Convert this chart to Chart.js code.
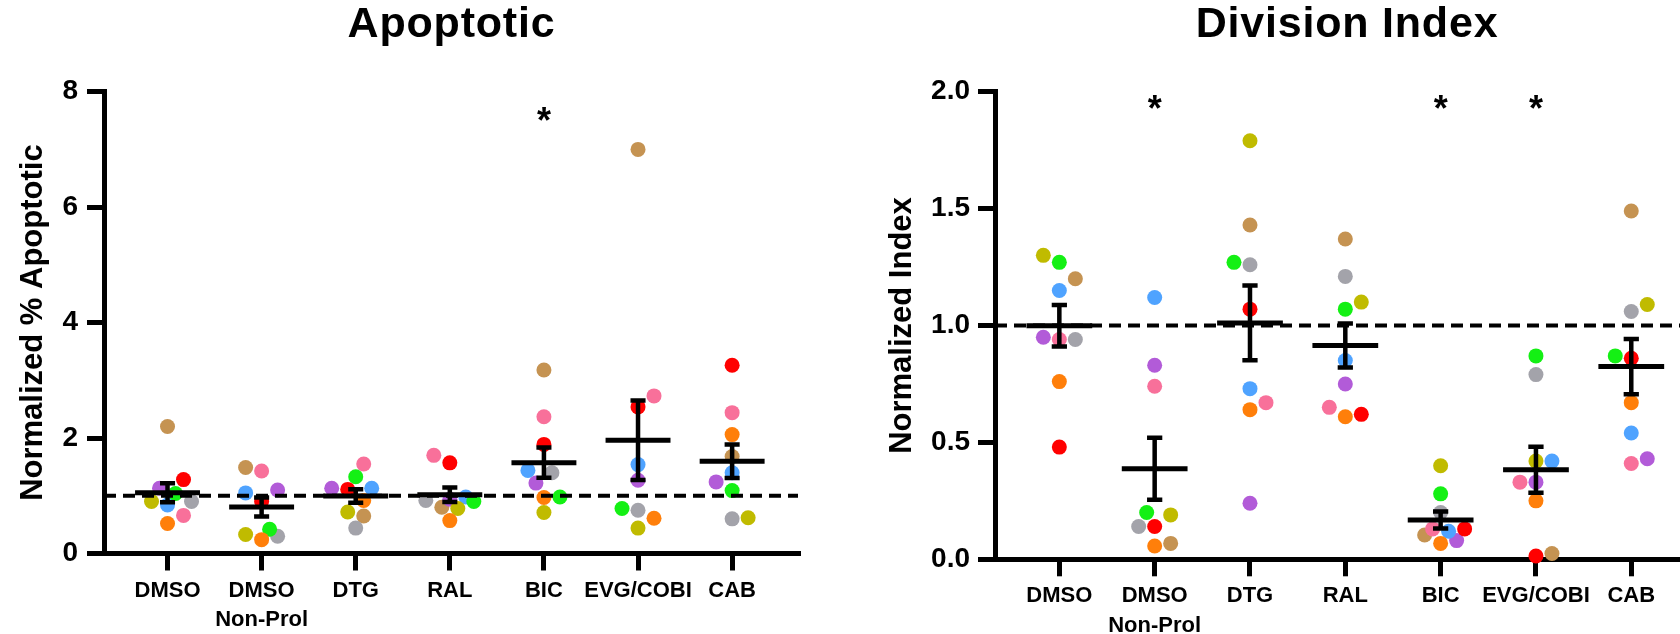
<!DOCTYPE html>
<html>
<head>
<meta charset="utf-8">
<script src="https://cdn.jsdelivr.net/npm/chart.js@4.4.1/dist/chart.umd.min.js"></script>
<style>
html, body { margin:0; padding:0; background:#fff; overflow:hidden; width:1680px; height:634px; }
#wrapL { position:absolute; left:0; top:0; width:840px; height:634px; }
#wrapR { position:absolute; left:840px; top:0; width:900px; height:634px; }
</style>
</head>
<body>
<div id="wrapL"><canvas id="cL"></canvas></div>
<div id="wrapR"><canvas id="cR"></canvas></div>
<script>
// ---------- DATA ----------
const categories = ['DMSO', ['DMSO', 'Non-Prol'], 'DTG', 'RAL', 'BIC', 'EVG/COBI', 'CAB'];
const donorNames = ['Donor 1', 'Donor 2', 'Donor 3', 'Donor 4', 'Donor 5', 'Donor 6', 'Donor 7', 'Donor 8', 'Donor 9'];
const donorColors = ['#FF0000', '#FF7F0A', '#C0BB00', '#14F014', '#4FA3FF', '#B25BD8', '#F8709A', '#A3A3AA', '#C59352'];

// Normalized % Apoptotic, one array per donor, in category order
const apoDonor1 = [1.28, 0.90, 1.11, 1.57, 1.89, 2.54, 3.26];
const apoDonor2 = [0.52, 0.24, 0.92, 0.57, 0.97, 0.61, 2.06];
const apoDonor3 = [0.90, 0.33, 0.72, 0.78, 0.71, 0.44, 0.62];
const apoDonor4 = [1.04, 0.42, 1.33, 0.90, 0.98, 0.78, 1.09];
const apoDonor5 = [0.84, 1.05, 1.13, 0.98, 1.44, 1.54, 1.40];
const apoDonor6 = [1.13, 1.10, 1.13, 0.94, 1.22, 1.27, 1.24];
const apoDonor7 = [0.66, 1.43, 1.55, 1.70, 2.37, 2.73, 2.44];
const apoDonor8 = [0.90, 0.30, 0.44, 0.92, 1.40, 0.75, 0.60];
const apoDonor9 = [2.20, 1.49, 0.65, 0.80, 3.18, 7.00, 1.68];

// Normalized Division Index, one array per donor, in category order
const divDonor1 = [0.48, 0.14, 1.07, 0.62, 0.13, 0.014, 0.86];
const divDonor2 = [0.76, 0.057, 0.64, 0.61, 0.068, 0.25, 0.67];
const divDonor3 = [1.30, 0.19, 1.79, 1.10, 0.40, 0.42, 1.09];
const divDonor4 = [1.27, 0.20, 1.27, 1.07, 0.28, 0.87, 0.87];
const divDonor5 = [1.15, 1.12, 0.73, 0.85, 0.12, 0.42, 0.54];
const divDonor6 = [0.95, 0.83, 0.24, 0.75, 0.08, 0.33, 0.43];
const divDonor7 = [0.94, 0.74, 0.67, 0.65, 0.13, 0.33, 0.41];
const divDonor8 = [0.94, 0.14, 1.26, 1.21, 0.20, 0.79, 1.06];
const divDonor9 = [1.20, 0.068, 1.43, 1.37, 0.104, 0.025, 1.49];

const apoTicks = [0, 2, 4, 6, 8];
const divTicks = [0.0, 0.5, 1.0, 1.5, 2.0];
const apoReference = 1;
const divReference = 1;
const apoSignificant = [4];        // BIC
const divSignificant = [1, 4, 5];  // DMSO Non-Prol, BIC, EVG/COBI

// ---------- STYLE / LAYOUT ----------
const FONT = '"Liberation Sans", Arial, Helvetica, sans-serif';
Chart.defaults.font.family = FONT;
Chart.defaults.color = '#000';
const X_MIN = -0.675, X_MAX = 6.70;
const MEAN_HALF = 0.345, CAP_HALF = 0.08;
const DOT_R = 7.5, SWARM_D = 14.5, SWARM_STEP = 8, SWARM_MAXK = 3;

function stats(vals) {
  const n = vals.length;
  const m = vals.reduce((a, b) => a + b, 0) / n;
  const sd = Math.sqrt(vals.reduce((a, b) => a + (b - m) * (b - m), 0) / (n - 1));
  return { mean: m, sem: sd / Math.sqrt(n) };
}

function buildDatasets(donorArrays, refValue) {
  const ds = [];
  donorArrays.forEach((arr, k) => {
    ds.push({
      type: 'scatter', label: donorNames[k], swarm: true,
      data: arr.map((v, i) => ({ x: i, y: v })),
      backgroundColor: donorColors[k], borderWidth: 0,
      pointRadius: DOT_R, pointHoverRadius: DOT_R, order: 3, clip: false
    });
  });
  const meanPts = [], semPts = [];
  categories.forEach((c, i) => {
    const s = stats(donorArrays.map(a => a[i]));
    meanPts.push({ x: i - MEAN_HALF, y: s.mean }, { x: i + MEAN_HALF, y: s.mean }, { x: i, y: null });
    const lo = s.mean - s.sem, hi = s.mean + s.sem;
    semPts.push({ x: i, y: lo }, { x: i, y: hi }, { x: i, y: null },
                { x: i - CAP_HALF, y: hi }, { x: i + CAP_HALF, y: hi }, { x: i, y: null },
                { x: i - CAP_HALF, y: lo }, { x: i + CAP_HALF, y: lo }, { x: i, y: null });
  });
  ds.push({ type: 'line', label: 'mean', data: meanPts, borderColor: '#000', borderWidth: 5,
            pointRadius: 0, spanGaps: false, order: 0, clip: false });
  ds.push({ type: 'line', label: 'sem', data: semPts, borderColor: '#000', borderWidth: 4.5,
            pointRadius: 0, spanGaps: false, order: 0, clip: false });
  ds.push({ type: 'line', label: 'ref', data: [{ x: X_MIN, y: refValue }, { x: X_MAX, y: refValue }],
            borderColor: '#000', borderWidth: 4, borderDash: [12, 7], pointRadius: 0, order: 1 });
  return ds;
}

// Beeswarm: spread points of one category sideways on a half-step grid (limited width)
const swarmPlugin = {
  id: 'swarm',
  afterDatasetsUpdate(chart) {
    const groups = {};
    chart.data.datasets.forEach((ds, di) => {
      if (!ds.swarm) return;
      const meta = chart.getDatasetMeta(di);
      meta.data.forEach((el, j) => {
        const key = ds.data[j].x;
        (groups[key] = groups[key] || []).push(el);
      });
    });
    Object.values(groups).forEach(els => {
      els.sort((a, b) => b.y - a.y);
      const placed = [];
      let balance = 0;
      els.forEach(el => {
        const base = el.x;
        const minDist = c => placed.reduce((m, p) => {
          const dx = p.off - c, dy = p.y - el.y;
          return Math.min(m, Math.sqrt(dx * dx + dy * dy));
        }, Infinity);
        const cands = [0];
        for (let k = 1; k <= SWARM_MAXK; k++) {
          const c = k * SWARM_STEP;
          if (balance > 0) cands.push(-c, c); else cands.push(c, -c);
        }
        let off = null, best = -1, bestC = 0;
        for (const c of cands) {
          const d = minDist(c);
          if (d >= SWARM_D) { off = c; break; }
          if (d > best) { best = d; bestC = c; }
        }
        if (off === null) off = bestC;
        balance += off;
        placed.push({ y: el.y, off });
        el.x = base + off;
      });
    });
  }
};

const annotPlugin = {
  id: 'annot',
  afterDraw(chart, args, opts) {
    const { ctx, chartArea, scales } = chart;
    ctx.save();
    ctx.fillStyle = '#000';
    ctx.textAlign = 'center';
    ctx.textBaseline = 'middle';
    ctx.font = 'bold 43px ' + FONT;
    try { ctx.letterSpacing = '0.8px'; } catch (e) {}
    ctx.fillText(opts.title, (chartArea.left + chartArea.right) / 2 + 0.5, opts.titleY);
    try { ctx.letterSpacing = '0px'; } catch (e) {}
    ctx.font = 'bold 36px ' + FONT;
    opts.stars.forEach(i => {
      ctx.fillText('*', scales.x.getPixelForValue(i), scales.y.getPixelForValue(opts.starLevel) + 8);
    });
    ctx.restore();
  }
};

function makeChart(canvasId, donorArrays, cfg) {
  return new Chart(document.getElementById(canvasId), {
    type: 'scatter',
    data: { datasets: buildDatasets(donorArrays, cfg.ref) },
    plugins: [swarmPlugin, annotPlugin],
    options: {
      responsive: true, maintainAspectRatio: false, animation: false, devicePixelRatio: 1,
      layout: { padding: { top: cfg.top, right: cfg.padRight, bottom: 0, left: 0 } },
      events: [],
      plugins: {
        legend: { display: false }, tooltip: { enabled: false },
        annot: { title: cfg.title, titleY: 25, stars: cfg.stars, starLevel: cfg.starLevel }
      },
      scales: {
        x: {
          type: 'linear', min: X_MIN, max: X_MAX,
          afterBuildTicks: s => { s.ticks = categories.map((c, i) => ({ value: i })); },
          afterFit: s => { s.height = cfg.xAxisH; },
          ticks: {
            autoSkip: false, maxRotation: 0, minRotation: 0, padding: 5,
            font: { size: 22, weight: 'bold', lineHeight: 1.36 }, color: '#000',
            callback: v => categories[v]
          },
          grid: { drawOnChartArea: false, drawTicks: true, tickLength: 17, tickWidth: 5, tickColor: '#000', lineWidth: 5 },
          border: { display: true, color: '#000', width: 5 }
        },
        y: {
          type: 'linear', min: cfg.yTicks[0], max: cfg.yTicks[cfg.yTicks.length - 1],
          afterBuildTicks: s => { s.ticks = cfg.yTicks.map(v => ({ value: v })); },
          afterFit: s => { s.width = cfg.yAxisW; },
          ticks: {
            padding: cfg.yPad, font: { size: 28, weight: 'bold' }, color: '#000',
            callback: v => cfg.fmt(v)
          },
          grid: { drawOnChartArea: false, drawTicks: true, tickLength: 17, tickWidth: 5, tickColor: '#000', lineWidth: 5 },
          border: { display: true, color: '#000', width: 5 },
          title: {
            display: true, text: cfg.yTitle, color: '#000',
            font: { size: 31, weight: 'bold' }, padding: { top: cfg.yTitlePad, bottom: 0 }
          }
        }
      }
    }
  });
}

makeChart('cL', [apoDonor1, apoDonor2, apoDonor3, apoDonor4, apoDonor5, apoDonor6, apoDonor7, apoDonor8, apoDonor9], {
  title: 'Apoptotic', yTitle: 'Normalized % Apoptotic', yTicks: apoTicks, fmt: v => String(v),
  ref: apoReference, stars: apoSignificant, starLevel: 7.6,
  top: 91.7, padRight: 42, xAxisH: 80.5, yAxisW: 104, yPad: 9, yTitlePad: 15
});

makeChart('cR', [divDonor1, divDonor2, divDonor3, divDonor4, divDonor5, divDonor6, divDonor7, divDonor8, divDonor9], {
  title: 'Division Index', yTitle: 'Normalized Index', yTicks: divTicks, fmt: v => v.toFixed(1),
  ref: divReference, stars: divSignificant, starLevel: 1.95,
  top: 91.7, padRight: 42, xAxisH: 74.7, yAxisW: 155, yPad: 8, yTitlePad: 44
});
</script>
</body>
</html>
